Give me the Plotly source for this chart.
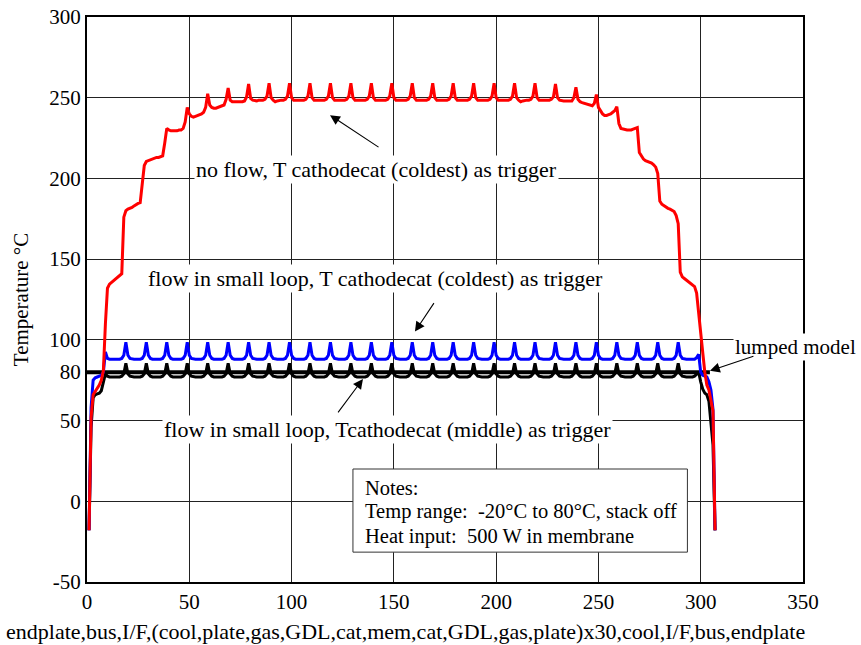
import plotly.graph_objects as go

# node index along the stack: endplate,bus,I/F,(10 nodes)x30,cool,I/F,bus,endplate
nodes = list(range(1, 308))

# ---- no flow, T cathodecat (coldest) as trigger (red)
red_head = [-18, 52, 66]
red_cells = [
    [68, 70, 72, 75, 81, 110, 132, 134.5, 135.5, 136.5],
    [137.5, 138.5, 139.5, 141, 176, 180, 181, 181.5, 182, 183],
    [184, 184.5, 185, 195, 208, 210.5, 211, 211.5, 212, 212.5],
    [213, 213, 213.5, 214, 222, 231, 230, 229.5, 229.5, 229.5],
    [229.5, 230, 230, 231, 235, 244, 240, 238.5, 238, 238.5],
    [239, 239.5, 240, 241, 244, 252.5, 245.5, 244, 243.5, 243.5],
    [244, 244.5, 245, 245.5, 249, 256, 248.5, 247.5, 247.5, 247.5],
    [247.5, 247.5, 247.5, 248, 250.5, 258.5, 249.5, 248.5, 248, 248],
    [248.5, 248.5, 248.5, 249, 251, 259, 250, 248.5, 247.5, 248],
    [248.5, 248.5, 248.5, 249, 251, 259, 250, 248.5, 248.5, 248.5],
    [248.5, 248.5, 248.5, 249, 251, 259, 250, 248.5, 248.5, 248.5],
    [248.5, 248.5, 248.5, 249, 251, 259, 250, 248.5, 248.5, 248.5],
    [248.5, 248.5, 248.5, 249, 251, 259, 250, 248.5, 248.5, 248.5],
    [248.5, 248.5, 248.5, 249, 251, 259, 250, 248.5, 248.5, 248.5],
    [248.5, 248.5, 248.5, 249, 251, 259, 250, 248.5, 248.5, 248.5],
    [248.5, 248.5, 248.5, 249, 251, 259, 250, 248.5, 248.5, 248.5],
    [248.5, 248.5, 248.5, 249, 251, 259, 250, 248.5, 248.5, 248.5],
    [248.5, 248.5, 248.5, 249, 251, 259, 250, 248.5, 248.5, 248.5],
    [248.5, 248.5, 248.5, 249, 251, 259, 250, 248.5, 248.5, 248.5],
    [248.5, 248.5, 248.5, 249, 251, 259, 250, 248.5, 248.5, 248.5],
    [248.5, 248.5, 248.5, 249, 251, 259, 250, 248.5, 247.5, 248],
    [248.5, 248.5, 248.5, 249, 251, 259, 250, 248.5, 248.5, 248.5],
    [248.5, 248.5, 248.5, 249, 250.5, 258.5, 250, 248.5, 248, 248],
    [248, 248, 248, 248, 250, 256.5, 249, 247.5, 247, 246.5],
    [246, 245.5, 245, 245, 246.5, 252, 244, 242, 240, 239],
    [239, 239.5, 240, 241, 242, 244.5, 234, 231, 230.5, 230],
    [230, 230, 230, 230.5, 231, 231.5, 216, 213.5, 212, 211],
    [210.5, 210, 209.5, 208.5, 207, 203, 186, 184, 183, 182],
    [181.5, 181, 180.5, 179.5, 177, 172, 142, 139, 138, 137],
    [136, 135, 134, 133, 129, 118, 106, 92, 80, 72],
]
red_tail = [69, 63, 56, -18]

# ---- flow in small loop, T cathodecat (coldest) as trigger (blue)
blue_head = [-18, 58, 75]
blue_cells = [
    [76.5, 77, 77.5, 78, 80, 92.5, 88.5, 88, 88, 88],
    [88, 88, 88, 88.5, 90.5, 98.5, 90.5, 88.5, 88, 88],
    [88, 88, 88, 88.5, 90.5, 98.5, 90.5, 88.5, 88, 88],
    [88, 88, 88, 88.5, 90.5, 98.5, 90.5, 88.5, 88, 88],
    [88, 88, 88, 88.5, 90.5, 98.5, 90.5, 88.5, 88, 88],
    [88, 88, 88, 88.5, 90.5, 98.5, 90.5, 88.5, 88, 88],
    [88, 88, 88, 88.5, 90.5, 98.5, 90.5, 88.5, 88, 88],
    [88, 88, 88, 88.5, 90.5, 98.5, 90.5, 88.5, 88, 88],
    [88, 88, 88, 88.5, 90.5, 98.5, 90.5, 88.5, 88, 88],
    [88, 88, 88, 88.5, 90.5, 98.5, 90.5, 88.5, 88, 88],
    [88, 88, 88, 88.5, 90.5, 98.5, 90.5, 88.5, 88, 88],
    [88, 88, 88, 88.5, 90.5, 98.5, 90.5, 88.5, 88, 88],
    [88, 88, 88, 88.5, 90.5, 98.5, 90.5, 88.5, 88, 88],
    [88, 88, 88, 88.5, 90.5, 98.5, 90.5, 88.5, 88, 88],
    [88, 88, 88, 88.5, 90.5, 98.5, 90.5, 88.5, 88, 88],
    [88, 88, 88, 88.5, 90.5, 98.5, 90.5, 88.5, 88, 88],
    [88, 88, 88, 88.5, 90.5, 98.5, 90.5, 88.5, 88, 88],
    [88, 88, 88, 88.5, 90.5, 98.5, 90.5, 88.5, 88, 88],
    [88, 88, 88, 88.5, 90.5, 98.5, 90.5, 88.5, 88, 88],
    [88, 88, 88, 88.5, 90.5, 98.5, 90.5, 88.5, 88, 88],
    [88, 88, 88, 88.5, 90.5, 98.5, 90.5, 88.5, 88, 88],
    [88, 88, 88, 88.5, 90.5, 98.5, 90.5, 88.5, 88, 88],
    [88, 88, 88, 88.5, 90.5, 98.5, 90.5, 88.5, 88, 88],
    [88, 88, 88, 88.5, 90.5, 98.5, 90.5, 88.5, 88, 88],
    [88, 88, 88, 88.5, 90.5, 98.5, 90.5, 88.5, 88, 88],
    [88, 88, 88, 88.5, 90.5, 98.5, 90.5, 88.5, 88, 88],
    [88, 88, 88, 88.5, 90.5, 98.5, 90.5, 88.5, 88, 88],
    [88, 88, 88, 88.5, 90.5, 98.5, 90.5, 88.5, 88, 88],
    [88, 88, 88, 88.5, 90.5, 98.5, 90.5, 88.5, 88, 88],
    [88, 88, 88, 88, 89, 91, 80, 78, 77.5, 77],
]
blue_tail = [74, 69, 57, -18]

# ---- flow in small loop, Tcathodecat (middle) as trigger (black)
black_head = [-18, 46, 64]
black_cells = [
    [66, 66.5, 67, 68.5, 74, 79, 77.5, 77, 77, 77],
    [77, 77, 77, 77.5, 79, 85.5, 79, 77.5, 77, 77],
    [77, 77, 77, 77.5, 79, 85.5, 79, 77.5, 77, 77],
    [77, 77, 77, 77.5, 79, 85.5, 79, 77.5, 77, 77],
    [77, 77, 77, 77.5, 79, 85.5, 79, 77.5, 77, 77],
    [77, 77, 77, 77.5, 79, 85.5, 79, 77.5, 77, 77],
    [77, 77, 77, 77.5, 79, 85.5, 79, 77.5, 77, 77],
    [77, 77, 77, 77.5, 79, 85.5, 79, 77.5, 77, 77],
    [77, 77, 77, 77.5, 79, 85.5, 79, 77.5, 77, 77],
    [77, 77, 77, 77.5, 79, 85.5, 79, 77.5, 77, 77],
    [77, 77, 77, 77.5, 79, 85.5, 79, 77.5, 77, 77],
    [77, 77, 77, 77.5, 79, 85.5, 79, 77.5, 77, 77],
    [77, 77, 77, 77.5, 79, 85.5, 79, 77.5, 77, 77],
    [77, 77, 77, 77.5, 79, 85.5, 79, 77.5, 77, 77],
    [77, 77, 77, 77.5, 79, 85.5, 79, 77.5, 77, 77],
    [77, 77, 77, 77.5, 79, 85.5, 79, 77.5, 77, 77],
    [77, 77, 77, 77.5, 79, 85.5, 79, 77.5, 77, 77],
    [77, 77, 77, 77.5, 79, 85.5, 79, 77.5, 77, 77],
    [77, 77, 77, 77.5, 79, 85.5, 79, 77.5, 77, 77],
    [77, 77, 77, 77.5, 79, 85.5, 79, 77.5, 77, 77],
    [77, 77, 77, 77.5, 79, 85.5, 79, 77.5, 77, 77],
    [77, 77, 77, 77.5, 79, 85.5, 79, 77.5, 77, 77],
    [77, 77, 77, 77.5, 79, 85.5, 79, 77.5, 77, 77],
    [77, 77, 77, 77.5, 79, 85.5, 79, 77.5, 77, 77],
    [77, 77, 77, 77.5, 79, 85.5, 79, 77.5, 77, 77],
    [77, 77, 77, 77.5, 79, 85.5, 79, 77.5, 77, 77],
    [77, 77, 77, 77.5, 79, 85.5, 79, 77.5, 77, 77],
    [77, 77, 77, 77.5, 79, 85.5, 79, 77.5, 77, 77],
    [77, 77, 77, 77.5, 79, 85.5, 79, 77.5, 77, 77],
    [77, 77, 77, 77.5, 78.5, 80, 74, 69.5, 67, 66],
]
black_tail = [62, 50, 35, -18]

# ---- lumped model
lumped_x = [0, 304.5]
lumped_y = [80, 80]

y_ticks = [-50, 0, 50, 100, 150, 200, 250, 300]
y_tick_text = ["-50", "0", "50", "100", "150", "200", "250", "300"]
y_extra_tick = [80]
x_ticks = [0, 50, 100, 150, 200, 250, 300, 350]

x_title = "endplate,bus,I/F,(cool,plate,gas,GDL,cat,mem,cat,GDL,gas,plate)x30,cool,I/F,bus,endplate"
notes_lines = ["Notes:", "Temp range:  -20°C to 80°C, stack off", "Heat input:  500 W in membrane"]


def flat(head, cells, tail):
    return head + [v for row in cells for v in row] + tail


red_t = flat(red_head, red_cells, red_tail)
blue_t = flat(blue_head, blue_cells, blue_tail)
black_t = flat(black_head, black_cells, black_tail)

FONT = "Liberation Serif, Times New Roman, serif"
TICK = 21
LABEL = 22

fig = go.Figure()
fig.add_trace(go.Scatter(x=lumped_x, y=lumped_y, mode="lines",
                         line=dict(color="black", width=4)))
fig.add_trace(go.Scatter(x=nodes, y=black_t, mode="lines",
                         line=dict(color="black", width=3)))
fig.add_trace(go.Scatter(x=nodes, y=blue_t, mode="lines",
                         line=dict(color="#0000ff", width=3)))
fig.add_trace(go.Scatter(x=nodes, y=red_t, mode="lines",
                         line=dict(color="#ff0000", width=3)))
# empty trace so the overlay axis carrying the "80" label exists
fig.add_trace(go.Scatter(x=[None], y=[None], yaxis="y2", hoverinfo="skip"))

axis_common = dict(zeroline=False, showline=True, linecolor="black", linewidth=2,
                   ticks="", automargin=False, tickfont=dict(size=TICK))

fig.update_layout(
    width=861, height=645,
    margin=dict(l=87, r=58, t=17, b=63),
    paper_bgcolor="white", plot_bgcolor="white",
    showlegend=False,
    font=dict(family=FONT, size=TICK, color="black"),
    xaxis=dict(range=[0, 350], tickvals=x_ticks, showgrid=True,
               gridcolor="#222", gridwidth=1, mirror=True, **axis_common),
    yaxis=dict(range=[-50, 300], tickvals=y_ticks, ticktext=y_tick_text,
               showgrid=True, gridcolor="#222", gridwidth=1, mirror=True,
               title=dict(text="Temperature °C", font=dict(size=TICK), standoff=15),
               **axis_common),
    yaxis2=dict(range=[-50, 300], tickvals=y_extra_tick, overlaying="y",
                side="left", showgrid=False, **axis_common),
)

# notes box
fig.add_shape(type="rect", xref="x", yref="y", x0=130, x1=293.5, y0=-31.5, y1=20,
              line=dict(color="#333", width=1), fillcolor="white", layer="above")

texts = [
    ("no flow, T cathodecat (coldest) as trigger", 141.6, 205.8, LABEL),
    ("flow in small loop, T cathodecat (coldest) as trigger", 140.8, 138, LABEL),
    ("flow in small loop, Tcathodecat (middle) as trigger", 147.1, 44.2, LABEL),
    ("lumped model", 346.2, 95.6, 21),
]
for t, x, y, s in texts:
    fig.add_annotation(text=t, x=x, y=y, showarrow=False, bgcolor="white",
                       borderpad=1, xref="x", yref="y",
                       font=dict(family=FONT, size=s, color="black"))

arrows = [
    (118.8, 239.2, 50, 33),
    (160.3, 105.1, 20, -30),
    (134.9, 75.8, -26, 35),
    (304.5, 80.8, 45, -15),
]
for x, y, ax, ay in arrows:
    fig.add_annotation(text="", x=x, y=y, ax=ax, ay=ay, showarrow=True,
                       arrowhead=2, arrowsize=1.8, arrowwidth=1.1,
                       arrowcolor="black", xref="x", yref="y")

for line, y in zip(notes_lines, [8.4, -6.5, -22.0]):
    fig.add_annotation(text=line, x=134.9, y=y, xanchor="left", yanchor="middle",
                       showarrow=False, xref="x", yref="y",
                       font=dict(family=FONT, size=20.5, color="black"))

fig.add_annotation(text=x_title, xref="paper", yref="paper", x=0.4455, y=-0.088,
                   xanchor="center", yanchor="middle", showarrow=False,
                   font=dict(family=FONT, size=LABEL, color="black"))

# the page body has a default 8px margin; drop it so the figure fills the window
fig.write_html("out.html", config={"displayModeBar": False},
               post_script="document.body.style.margin='0';")
